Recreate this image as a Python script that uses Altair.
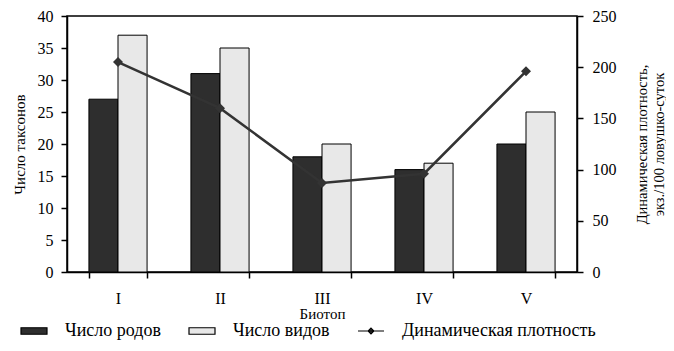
import altair as alt
import pandas as pd

biotopes = ["I", "II", "III", "IV", "V"]
genera = [27, 31, 18, 16, 20]
species = [37, 35, 20, 17, 25]
density = [205, 160, 87, 96, 196]
series_names = ["Число родов", "Число видов", "Динамическая плотность"]
left_ticks = [0, 5, 10, 15, 20, 25, 30, 35, 40]
right_ticks = [0, 50, 100, 150, 200, 250]

bars_df = pd.DataFrame({
    "biotope": biotopes * 2,
    "series": [series_names[0]] * len(biotopes) + [series_names[1]] * len(biotopes),
    "value": genera + species,
})
line_df = pd.DataFrame({"biotope": biotopes, "density": density})

FONT = "Liberation Serif"
LEG_FONT = "Liberation Serif, Times New Roman, serif"
rect_path = "M-0.5,-0.125H0.5V0.125H-0.5Z"
line_path = "M-0.5,0H0.5M0,-0.11L0.11,0L0,0.11L-0.11,0Z"
shape_expr = ("datum.value === '" + series_names[2] + "' ? '" + line_path + "' : '" + rect_path + "'")

x_enc = alt.X(
    "biotope:N", sort=biotopes, title="Биотоп",
    scale=alt.Scale(paddingInner=0.43, paddingOuter=0.215),
    axis=alt.Axis(labelAngle=0, tickBand="extent", tickSize=6, labelPadding=12,
                  titlePadding=0, labelFontSize=16, titleFontSize=15),
)

bars = alt.Chart(bars_df).mark_bar(stroke="black", strokeWidth=1).encode(
    x=x_enc,
    xOffset=alt.XOffset("series:N", sort=series_names[:2],
                        scale=alt.Scale(paddingInner=0, paddingOuter=0)),
    y=alt.Y("value:Q", title="Число таксонов",
            scale=alt.Scale(domain=[0, 40], nice=False),
            axis=alt.Axis(values=left_ticks, tickSize=6, labelPadding=8,
                          titlePadding=10, labelFontSize=16, titleFontSize=15)),
    fill=alt.Fill("series:N",
                  scale=alt.Scale(domain=series_names, range=["#2e2e2e", "#e8e8e8", "#333333"]),
                  legend=alt.Legend(
                      orient="none", legendX=-60, legendY=288, direction="horizontal",
                      title=None, symbolType=alt.ExprRef(shape_expr), symbolSize=2704,
                      symbolStrokeColor="black", symbolStrokeWidth=1.2,
                      labelFont=LEG_FONT, labelFontSize=18, labelColor="black",
                      labelLimit=300, columnPadding=14, labelOffset=4,
                  )),
)

base_line = alt.Chart(line_df).encode(
    x=alt.X("biotope:N", sort=biotopes),
    y=alt.Y("density:Q", scale=alt.Scale(domain=[0, 250], nice=False),
            title=["Динамическая плотность,", "экз./100 ловушко-суток"],
            axis=alt.Axis(orient="right", values=right_ticks, tickSize=6, labelPadding=9,
                          titlePadding=17, titleAngle=270, labelFontSize=16, titleFontSize=14.5)),
)
line = base_line.mark_line(color="#333333", strokeWidth=2.5)
points = base_line.mark_point(shape="diamond", filled=True, size=100, color="#333333",
                              opacity=1)

chart = alt.layer(bars, alt.layer(line, points)).resolve_scale(y="independent").properties(
    width=510, height=256,
    autosize=alt.AutoSizeParams(type="none"),
    padding={"left": 59, "top": 8, "right": 89, "bottom": 71},
).configure(font=FONT).configure_axis(
    labelFont=FONT, titleFont=FONT, labelColor="black", titleColor="black",
    domainColor="black", domainWidth=1.5, tickColor="black", tickWidth=1.5,
    grid=False, titleFontWeight="normal",
).configure_legend(
    labelFont=LEG_FONT, labelFontSize=18, labelColor="black",
).configure_view(stroke="black", strokeWidth=1.5)

chart.save("out.html", embed_options={"renderer": "svg", "actions": False})
